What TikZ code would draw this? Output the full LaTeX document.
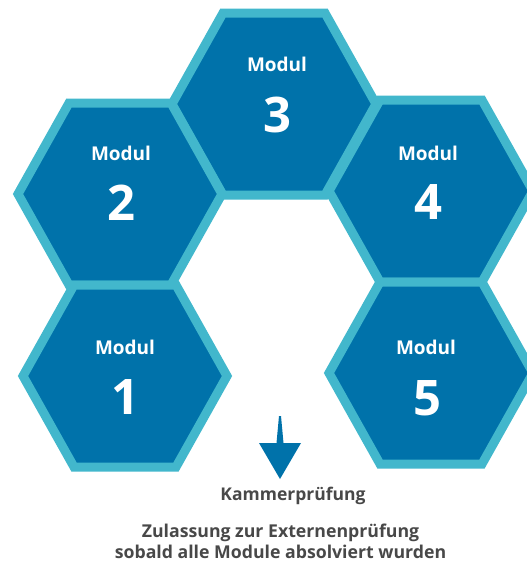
\documentclass[tikz,border=0pt]{standalone}
\usepackage{fontspec}
\setmainfont{Open Sans}
\usetikzlibrary{calc}
\definecolor{hexfill}{RGB}{0,114,170}
\definecolor{hexline}{RGB}{66,183,204}
\definecolor{txtgray}{RGB}{72,72,72}
\begin{document}
\begin{tikzpicture}[x=1pt,y=-1pt,
  hexagon/.style={fill=hexfill,draw=hexline,line width=9pt,line join=miter},
  modlabel/.style={text=white,font=\bfseries\fontsize{19}{22}\selectfont,inner sep=0pt},
  numlabel/.style={text=white,font=\bfseries\fontsize{49}{55}\selectfont,inner sep=0pt},
  captext/.style={text=txtgray,font=\bfseries\fontsize{17.7}{21}\selectfont,inner sep=0pt,anchor=base},
  kammertext/.style={text=txtgray,font=\bfseries\fontsize{17.5}{20}\selectfont,inner sep=0pt,anchor=base},
  arrowshape/.style={fill=hexfill,draw=none},
  hexpic/.pic={\path[hexagon] (-102,0) -- (-51,-91) -- (51,-91) -- (102,0) -- (51,91) -- (-51,91) -- cycle;}]
\useasboundingbox (0,0) rectangle (527,563);
\begin{scope}
\clip (0,0) rectangle (527,563);
\coordinate (c3) at (274,104);
\coordinate (c2) at (120,194);
\coordinate (c4) at (431,191);
\coordinate (c1) at (125,376);
\coordinate (c5) at (431,373);
\pic at (c3) {hexpic};
\pic at (c2) {hexpic};
\pic at (c4) {hexpic};
\pic at (c1) {hexpic};
\pic at (c5) {hexpic};
\end{scope}
% labels
\node[modlabel] (m3) at (277,64) {Modul};
\node[numlabel] (n3) at (277,114.5) {3};
\node[modlabel] (m2) at (121,153) {Modul};
\node[numlabel] (n2) at (121,202.5) {2};
\node[modlabel] (m4) at (428,153) {Modul};
\node[numlabel] (n4) at (428,202) {4};
\node[modlabel] (m1) at (125,347.5) {Modul};
\node[numlabel] (n1) at (125,397.5) {1};
\node[modlabel] (m5) at (426,347.5) {Modul};
\node[numlabel] (n5) at (427,398.5) {5};
% arrow
\coordinate (atop) at (280,416);
\coordinate (atip) at (280,479);
\fill[arrowshape] ($(atop)+(-1,0)$) -- ($(atop)+(1,0)$) -- ($(atop)+(3.5,27)$) -- ($(atop)+(21,27)$) -- (atip) -- ($(atop)+(-21,27)$) -- ($(atop)+(-3.5,27)$) -- cycle;
% captions
\node[kammertext] (kp) at (293,500.5) {Kammerprüfung};
\node[captext] (z1) at (280.5,537) {Zulassung zur Externenprüfung};
\node[captext] (z2) at (280.5,558) {sobald alle Module absolviert wurden};
\end{tikzpicture}
\end{document}
